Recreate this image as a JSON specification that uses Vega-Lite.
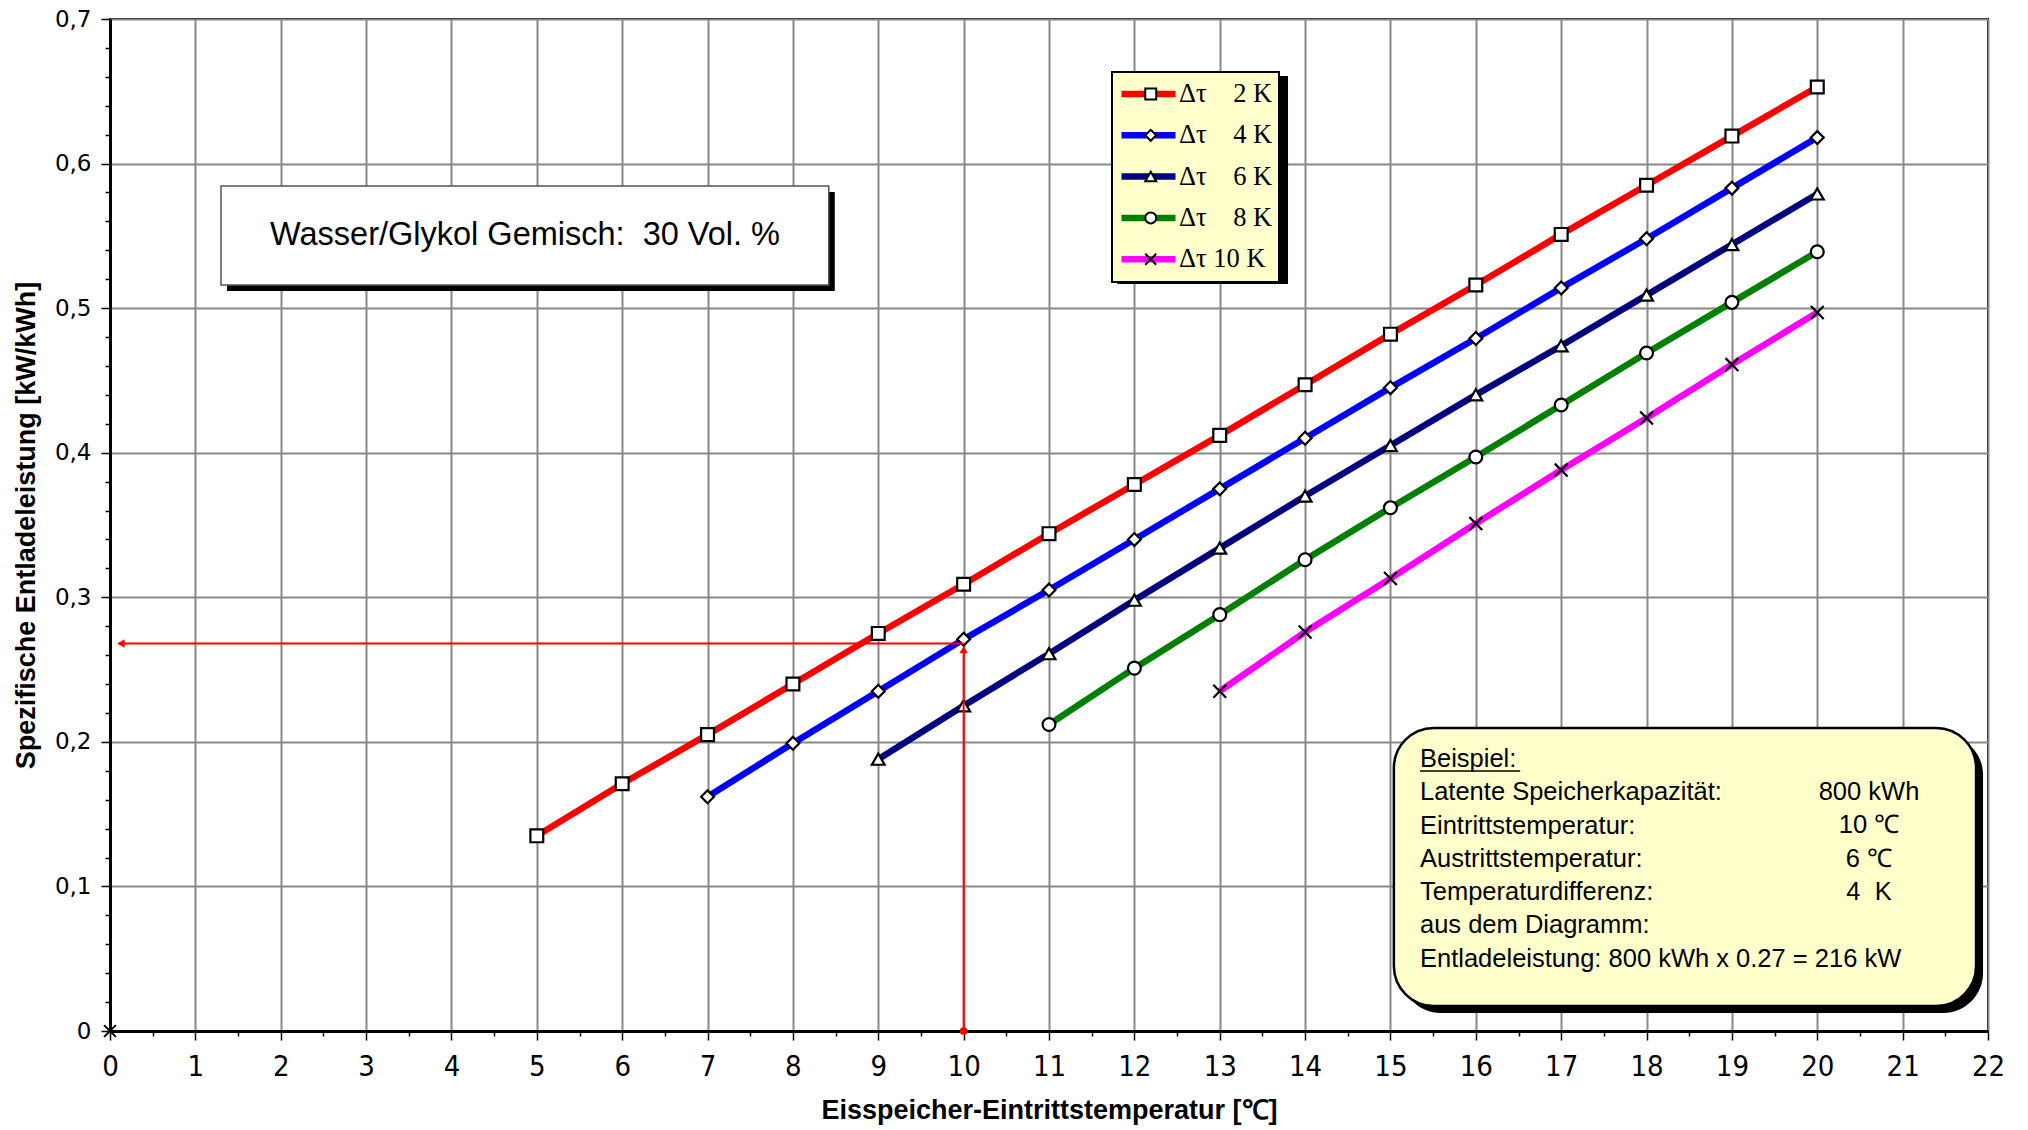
{
  "$schema": "https://vega.github.io/schema/vega-lite/v6.json",
  "width": 1878,
  "height": 1012,
  "autosize": {"type": "none"},
  "padding": {"left": 110, "top": 19, "right": 40, "bottom": 99},
  "background": "white",
  "data": {
    "values": [
      {"t": 5, "p": 0.135, "dt": 2}, {"t": 6, "p": 0.171, "dt": 2}, {"t": 7, "p": 0.205, "dt": 2}, {"t": 8, "p": 0.240, "dt": 2},
      {"t": 9, "p": 0.275, "dt": 2}, {"t": 10, "p": 0.309, "dt": 2}, {"t": 11, "p": 0.344, "dt": 2}, {"t": 12, "p": 0.378, "dt": 2},
      {"t": 13, "p": 0.412, "dt": 2}, {"t": 14, "p": 0.447, "dt": 2}, {"t": 15, "p": 0.482, "dt": 2}, {"t": 16, "p": 0.516, "dt": 2},
      {"t": 17, "p": 0.551, "dt": 2}, {"t": 18, "p": 0.585, "dt": 2}, {"t": 19, "p": 0.619, "dt": 2}, {"t": 20, "p": 0.653, "dt": 2},
      {"t": 7, "p": 0.162, "dt": 4}, {"t": 8, "p": 0.199, "dt": 4}, {"t": 9, "p": 0.235, "dt": 4}, {"t": 10, "p": 0.271, "dt": 4},
      {"t": 11, "p": 0.305, "dt": 4}, {"t": 12, "p": 0.340, "dt": 4}, {"t": 13, "p": 0.375, "dt": 4}, {"t": 14, "p": 0.410, "dt": 4},
      {"t": 15, "p": 0.445, "dt": 4}, {"t": 16, "p": 0.479, "dt": 4}, {"t": 17, "p": 0.514, "dt": 4}, {"t": 18, "p": 0.548, "dt": 4},
      {"t": 19, "p": 0.583, "dt": 4}, {"t": 20, "p": 0.618, "dt": 4},
      {"t": 9, "p": 0.188, "dt": 6}, {"t": 10, "p": 0.225, "dt": 6}, {"t": 11, "p": 0.261, "dt": 6}, {"t": 12, "p": 0.298, "dt": 6},
      {"t": 13, "p": 0.334, "dt": 6}, {"t": 14, "p": 0.370, "dt": 6}, {"t": 15, "p": 0.405, "dt": 6}, {"t": 16, "p": 0.440, "dt": 6},
      {"t": 17, "p": 0.474, "dt": 6}, {"t": 18, "p": 0.509, "dt": 6}, {"t": 19, "p": 0.544, "dt": 6}, {"t": 20, "p": 0.579, "dt": 6},
      {"t": 11, "p": 0.212, "dt": 8}, {"t": 12, "p": 0.251, "dt": 8}, {"t": 13, "p": 0.288, "dt": 8}, {"t": 14, "p": 0.326, "dt": 8},
      {"t": 15, "p": 0.362, "dt": 8}, {"t": 16, "p": 0.397, "dt": 8}, {"t": 17, "p": 0.433, "dt": 8}, {"t": 18, "p": 0.469, "dt": 8},
      {"t": 19, "p": 0.504, "dt": 8}, {"t": 20, "p": 0.539, "dt": 8},
      {"t": 13, "p": 0.235, "dt": 10}, {"t": 14, "p": 0.276, "dt": 10}, {"t": 15, "p": 0.313, "dt": 10}, {"t": 16, "p": 0.351, "dt": 10},
      {"t": 17, "p": 0.388, "dt": 10}, {"t": 18, "p": 0.424, "dt": 10}, {"t": 19, "p": 0.461, "dt": 10}, {"t": 20, "p": 0.497, "dt": 10}
    ]
  },
  "encoding": {
    "x": {
      "type": "quantitative",
      "scale": {"domain": [0, 22], "nice": false, "zero": false},
      "axis": {
        "title": "Eisspeicher-Eintrittstemperatur [℃]",
        "values": [0,0.5,1,1.5,2,2.5,3,3.5,4,4.5,5,5.5,6,6.5,7,7.5,8,8.5,9,9.5,10,10.5,11,11.5,12,12.5,13,13.5,14,14.5,15,15.5,16,16.5,17,17.5,18,18.5,19,19.5,20,20.5,21,21.5,22],
        "labelExpr": "datum.value % 1 === 0 ? format(datum.value, 'd') : ''",
        "labelOverlap": false,
        "labelFlush": false,
        "gridOpacity": {"condition": {"test": "datum.value % 1 !== 0", "value": 0}, "value": 1},
        "tickSize": {"condition": {"test": "datum.value % 1 !== 0", "value": 5}, "value": 9},
        "labelFont": "Liberation Sans Narrow, DejaVu Sans Condensed, sans-serif",
        "labelFontSize": 29,
        "labelPadding": 12,
        "titlePadding": 16
      }
    },
    "y": {
      "type": "quantitative",
      "scale": {"domain": [0, 0.7], "nice": false},
      "axis": {
        "title": "Spezifische Entladeleistung [kW/kWh]",
        "values": [0,0.02,0.04,0.06,0.08,0.1,0.12,0.14,0.16,0.18,0.2,0.22,0.24,0.26,0.28,0.3,0.32,0.34,0.36,0.38,0.4,0.42,0.44,0.46,0.48,0.5,0.52,0.54,0.56,0.58,0.6,0.62,0.64,0.66,0.68,0.7],
        "labelExpr": "abs(datum.value*10 - round(datum.value*10)) > 0.001 ? '' : (datum.value == 0 ? '0' : replace(format(datum.value, '.1f'), '.', ','))",
        "labelOverlap": false,
        "labelFlush": false,
        "gridOpacity": {"condition": {"test": "abs(datum.value*10 - round(datum.value*10)) > 0.001", "value": 0}, "value": 1},
        "tickSize": {"condition": {"test": "abs(datum.value*10 - round(datum.value*10)) > 0.001", "value": 5}, "value": 9},
        "labelFont": "DejaVu Sans",
        "labelFontSize": 23,
        "labelPadding": 10,
        "titlePadding": 14
      }
    }
  },
  "layer": [
    {
      "mark": {"type": "line", "strokeWidth": 6.5},
      "encoding": {
        "x": {"field": "t"},
        "y": {"field": "p"},
        "color": {
          "field": "dt", "type": "nominal",
          "scale": {"domain": [2, 4, 6, 8, 10], "range": ["#FF0000", "#0000FF", "#000080", "#008000", "#FF00FF"]},
          "legend": {
            "orient": "none", "legendX": 1002, "legendY": 53,
            "title": null,
            "fillColor": "#FFFFCC", "strokeColor": "black",
            "padding": 6,
            "symbolType": "stroke", "symbolSize": 2916, "symbolStrokeWidth": 6.5,
            "symbolOffset": 0,
            "clipHeight": 32,
            "labelFont": "Liberation Serif", "labelFontSize": 26.5, "labelColor": "black",
            "labelOffset": 0,
            "rowPadding": 9.3,
            "labelExpr": "'Δτ\u00a0' + (datum.value < 10 ? '\u2007\u00a0' : '') + datum.value + ' K'"
          }
        }
      }
    },
    {
      "mark": {"type": "point", "filled": true, "fill": "white", "strokeWidth": 2.2, "size": 165, "opacity": 1},
      "encoding": {
        "x": {"field": "t"},
        "y": {"field": "p"},
        "stroke": {
          "field": "dt", "type": "nominal",
          "scale": {"range": ["black", "black", "black", "black", "black"]}
        },
        "shape": {
          "field": "dt", "type": "nominal",
          "scale": {"range": ["square", "diamond", "triangle-up", "circle", "M-1,-1L1,1M-1,1L1,-1"]},
          "legend": {
            "orient": "none", "legendX": 1002, "legendY": 53,
            "title": null,
            "padding": 6,
            "symbolSize": 120, "symbolStrokeWidth": 2,
            "symbolOffset": 19.5,
            "clipHeight": 32,
            "symbolFillColor": "white",
            "labelFontSize": 26.5,
            "labelOffset": 0,
            "rowPadding": 9.3,
            "labelExpr": "''"
          }
        }
      }
    },
    {
      "data": {"values": [{}]},
      "mark": {"type": "rect", "fill": "black"},
      "encoding": {"x": {"datum": 11.80}, "x2": {"datum": 13.80}, "y": {"datum": 0.6606}, "y2": {"datum": 0.5167}}
    },
    {
      "data": {"values": [{}]},
      "mark": {"type": "rect", "fill": "black", "xOffset": 6, "x2Offset": 6, "yOffset": 6, "y2Offset": 6},
      "encoding": {"x": {"datum": 1.30}, "x2": {"datum": 8.42}, "y": {"datum": 0.5845}, "y2": {"datum": 0.516}}
    },
    {
      "data": {"values": [{}]},
      "mark": {"type": "rect", "fill": "white", "stroke": "#555555", "strokeWidth": 1.5},
      "encoding": {"x": {"datum": 1.30}, "x2": {"datum": 8.42}, "y": {"datum": 0.5845}, "y2": {"datum": 0.516}}
    },
    {
      "data": {"values": [{}]},
      "mark": {"type": "text", "font": "Liberation Sans", "fontSize": 32.5, "align": "center", "baseline": "middle", "color": "black"},
      "encoding": {"x": {"datum": 4.862}, "y": {"datum": 0.5506}, "text": {"value": "Wasser/Glykol Gemisch:\u00a0 30 Vol. %"}}
    },
    {
      "data": {"values": [{}]},
      "mark": {"type": "rule", "color": "red", "strokeWidth": 2},
      "encoding": {"x": {"datum": 10}, "y": {"datum": 0}, "y2": {"datum": 0.262}}
    },
    {
      "data": {"values": [{}]},
      "mark": {"type": "rule", "color": "red", "strokeWidth": 2},
      "encoding": {"x": {"datum": 0.1}, "x2": {"datum": 10}, "y": {"datum": 0.268}}
    },
    {
      "data": {"values": [{}]},
      "mark": {"type": "point", "shape": "triangle-up", "filled": true, "color": "red", "size": 70, "opacity": 1, "yOffset": 6},
      "encoding": {"x": {"datum": 10}, "y": {"datum": 0.268}}
    },
    {
      "data": {"values": [{}]},
      "mark": {"type": "point", "shape": "triangle-left", "filled": true, "color": "red", "size": 70, "opacity": 1, "xOffset": 5},
      "encoding": {"x": {"datum": 0.07}, "y": {"datum": 0.268}}
    },
    {
      "data": {"values": [{}]},
      "mark": {"type": "point", "shape": "circle", "filled": true, "color": "red", "size": 60, "opacity": 1},
      "encoding": {"x": {"datum": 10}, "y": {"datum": 0}}
    },
    {
      "data": {"values": [{}]},
      "mark": {"type": "point", "shape": "M-1,-1L1,1M-1,1L1,-1", "filled": false, "stroke": "black", "strokeWidth": 2, "size": 140, "opacity": 1},
      "encoding": {"x": {"datum": 0}, "y": {"datum": 0}}
    },
    {
      "data": {"values": [{}]},
      "mark": {"type": "rect", "fill": "black", "cornerRadius": 40, "xOffset": 7, "x2Offset": 7, "yOffset": 7, "y2Offset": 7},
      "encoding": {"x": {"datum": 15.04}, "x2": {"datum": 21.86}, "y": {"datum": 0.2096}, "y2": {"datum": 0.0173}}
    },
    {
      "data": {"values": [{}]},
      "mark": {"type": "rect", "fill": "#FFFFCC", "stroke": "black", "strokeWidth": 2.5, "cornerRadius": 40},
      "encoding": {"x": {"datum": 15.04}, "x2": {"datum": 21.86}, "y": {"datum": 0.2096}, "y2": {"datum": 0.0173}}
    },
    {
      "data": {"values": [{}]},
      "mark": {"type": "text", "font": "Liberation Sans", "fontSize": 25.5, "align": "left", "baseline": "middle", "lineHeight": 33.3, "color": "black"},
      "encoding": {
        "x": {"datum": 15.346}, "y": {"datum": 0.18815},
        "text": {"value": ["Beispiel:", "Latente Speicherkapazität:", "Eintrittstemperatur:", "Austrittstemperatur:", "Temperaturdifferenz:", "aus dem Diagramm:", "Entladeleistung: 800 kWh x 0.27 = 216 kW"]}
      }
    },
    {
      "data": {"values": [{}]},
      "mark": {"type": "text", "font": "Liberation Sans", "fontSize": 25.5, "align": "center", "baseline": "middle", "lineHeight": 33.3, "color": "black"},
      "encoding": {
        "x": {"datum": 20.606}, "y": {"datum": 0.16532},
        "text": {"value": ["800 kWh", "10 ℃", "6 ℃", "4\u00a0 K"]}
      }
    },
    {
      "data": {"values": [{}]},
      "mark": {"type": "rule", "color": "black", "strokeWidth": 1.5},
      "encoding": {"x": {"datum": 15.346}, "x2": {"datum": 16.52}, "y": {"datum": 0.1798}}
    }
  ],
  "config": {
    "view": {"stroke": "black", "strokeWidth": 2},
    "axis": {
      "labelOverlap": false,
      "domainColor": "black", "domainWidth": 3,
      "tickColor": "black", "tickWidth": 1.5,
      "gridColor": "#888888", "gridWidth": 2,
      "labelColor": "black", "titleColor": "black",
      "titleFont": "Liberation Sans", "titleFontSize": 27, "titleFontWeight": "bold"
    },
    "legend": {"strokeWidth": 2}
  }
}
